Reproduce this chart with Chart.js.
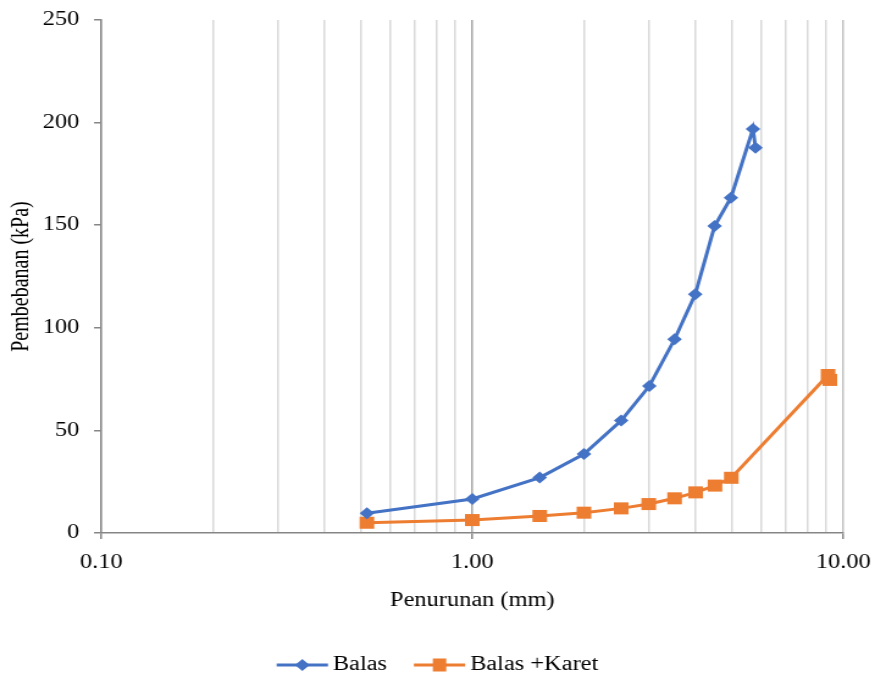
<!DOCTYPE html>
<html lang="id">
<head>
    <meta charset="UTF-8">
    <title>Pembebanan vs Penurunan</title>
    <script src="https://cdn.jsdelivr.net/npm/chart.js"></script>
    <style>
        html, body { margin: 0; padding: 0; background: #ffffff; }
        /* the reference is stretched sideways, so the canvas is too */
        #chart { width: 875px; height: 681px; display: block; }
    </style>
</head>
<body>
<canvas id="chart" width="717" height="681" style="width:875px;height:681px"></canvas>

<script>
    // data
    const balasX = [0.52, 1.0, 1.52, 2.0, 2.52, 3.0, 3.51, 3.99, 4.5, 4.98, 5.71, 5.8];
    const balasY = [9.6, 16.6, 27.0, 38.5, 54.8, 71.6, 94.4, 116.3, 149.6, 163.4, 196.9, 187.8];

    const karetX = [0.52, 1.0, 1.52, 2.0, 2.52, 2.99, 3.51, 4.0, 4.51, 4.99, 9.1, 9.2];
    const karetY = [5.0, 6.3, 8.3, 9.9, 12.0, 14.1, 16.9, 19.8, 23.1, 26.9, 77.0, 74.6];

    const seriesNames = ['Balas', 'Balas +Karet'];

    const xTickValues = [0.1, 1, 10];
    const xTickLabels = ['0.10', '1.00', '10.00'];
    const yTicks = [0, 50, 100, 150, 200, 250];

    const FONT = "'Liberation Serif', 'Times New Roman', serif";
    const BLUE = '#4472C4';
    const ORANGE = '#ED7D31';

    function points(xs, ys) {
        return xs.map((x, i) => ({ x: x, y: ys[i] }));
    }

    // vertical grid lines on every 1..9 step of each decade
    const gridValues = [];
    for (let d = 0.1; d < 10; d *= 10) {
        for (let k = 1; k < 10; k++) gridValues.push(+(k * d).toFixed(2));
    }
    gridValues.push(10);

    // legend: line with marker, drawn below the axis title
    const lineLegend = {
        id: 'lineLegend',
        afterDraw(chart) {
            const ctx = chart.ctx;
            const lineLen = 42, gap = 4, spacing = 22, y = 665;
            ctx.save();
            ctx.font = '20px ' + FONT;
            const widths = chart.data.datasets.map(ds => ctx.measureText(ds.label).width);
            let total = 0;
            widths.forEach((w, i) => { total += lineLen + gap + w + (i > 0 ? spacing : 0); });
            let x = chart.width / 2 - total / 2;
            chart.data.datasets.forEach((ds, i) => {
                ctx.strokeStyle = ds.borderColor;
                ctx.fillStyle = ds.borderColor;
                ctx.lineWidth = 3;
                ctx.beginPath();
                ctx.moveTo(x, y);
                ctx.lineTo(x + lineLen, y);
                ctx.stroke();
                const cx = x + lineLen / 2;
                ctx.beginPath();
                if (ds.pointStyle === 'rectRot') {
                    ctx.moveTo(cx, y - 6);
                    ctx.lineTo(cx + 6, y);
                    ctx.lineTo(cx, y + 6);
                    ctx.lineTo(cx - 6, y);
                    ctx.closePath();
                } else {
                    ctx.rect(cx - 5.5, y - 6.5, 11, 13);
                }
                ctx.fill();
                ctx.fillStyle = '#000000';
                ctx.textBaseline = 'middle';
                ctx.textAlign = 'left';
                ctx.fillText(ds.label, x + lineLen + gap, y);
                x += lineLen + gap + widths[i] + spacing;
            });
            ctx.restore();
        }
    };

    const ctx = document.getElementById('chart').getContext('2d');
    new Chart(ctx, {
        type: 'scatter',
        data: {
            datasets: [
                {
                    label: seriesNames[0],
                    data: points(balasX, balasY),
                    showLine: true,
                    borderColor: BLUE,
                    backgroundColor: BLUE,
                    borderWidth: 3,
                    pointStyle: 'rectRot',
                    pointRadius: 6,
                    pointBorderWidth: 0
                },
                {
                    label: seriesNames[1],
                    data: points(karetX, karetY),
                    showLine: true,
                    borderColor: ORANGE,
                    backgroundColor: ORANGE,
                    borderWidth: 3,
                    pointStyle: 'rect',
                    pointRadius: 8.5,
                    pointBorderWidth: 0
                }
            ]
        },
        options: {
            responsive: false,
            animation: false,
            layout: { padding: { left: 0, top: 20, right: 26, bottom: 0 } },
            plugins: {
                legend: { display: false },
                tooltip: { enabled: false }
            },
            scales: {
                x: {
                    type: 'logarithmic',
                    min: 0.1,
                    max: 10,
                    afterBuildTicks(scale) {
                        scale.ticks = gridValues.map(v => ({ value: v }));
                    },
                    afterFit(scale) {
                        scale.height = 681 - 533;
                        scale.paddingLeft = 0;
                        scale.paddingRight = 0;
                    },
                    ticks: {
                        autoSkip: false,
                        maxRotation: 0,
                        padding: 12,
                        color: '#000000',
                        font: { family: FONT, size: 20 },
                        callback(value) {
                            const i = xTickValues.indexOf(+(+value).toFixed(2));
                            return i >= 0 ? xTickLabels[i] : '';
                        }
                    },
                    grid: {
                        lineWidth: 1.5,
                        tickLength: 6,
                        color(c) {
                            const v = c.tick ? +c.tick.value.toFixed(2) : 0;
                            if (v === 1) return '#a6a6a6';
                            if (v === 10) return '#bfbfbf';
                            return '#d9d9d9';
                        },
                        tickColor(c) {
                            const v = c.tick ? +c.tick.value.toFixed(2) : 0;
                            return xTickValues.indexOf(v) >= 0 ? '#868686' : 'rgba(0,0,0,0)';
                        }
                    },
                    border: { color: '#868686', width: 1.5 },
                    title: {
                        display: true,
                        text: 'Penurunan (mm)',
                        color: '#000000',
                        font: { family: FONT, size: 20, lineHeight: 1.2 },
                        padding: { top: 0, bottom: 68 }
                    }
                },
                y: {
                    type: 'linear',
                    min: yTicks[0],
                    max: yTicks[yTicks.length - 1],
                    afterBuildTicks(scale) {
                        scale.ticks = yTicks.map(v => ({ value: v }));
                    },
                    afterFit(scale) {
                        scale.width = 83;
                        scale.paddingTop = 0;
                        scale.paddingBottom = 0;
                    },
                    ticks: {
                        padding: 12,
                        color: '#000000',
                        font: { family: FONT, size: 20 }
                    },
                    grid: {
                        drawOnChartArea: false,
                        tickLength: 6,
                        lineWidth: 1.5,
                        color: '#868686'
                    },
                    border: { color: '#868686', width: 1.5 },
                    title: {
                        display: true,
                        text: 'Pembebanan (kPa)',
                        color: '#000000',
                        font: { family: FONT, size: 20, lineHeight: 1.2 },
                        padding: { top: 6, bottom: 0 }
                    }
                }
            }
        },
        plugins: [lineLegend]
    });
</script>
</body>
</html>
